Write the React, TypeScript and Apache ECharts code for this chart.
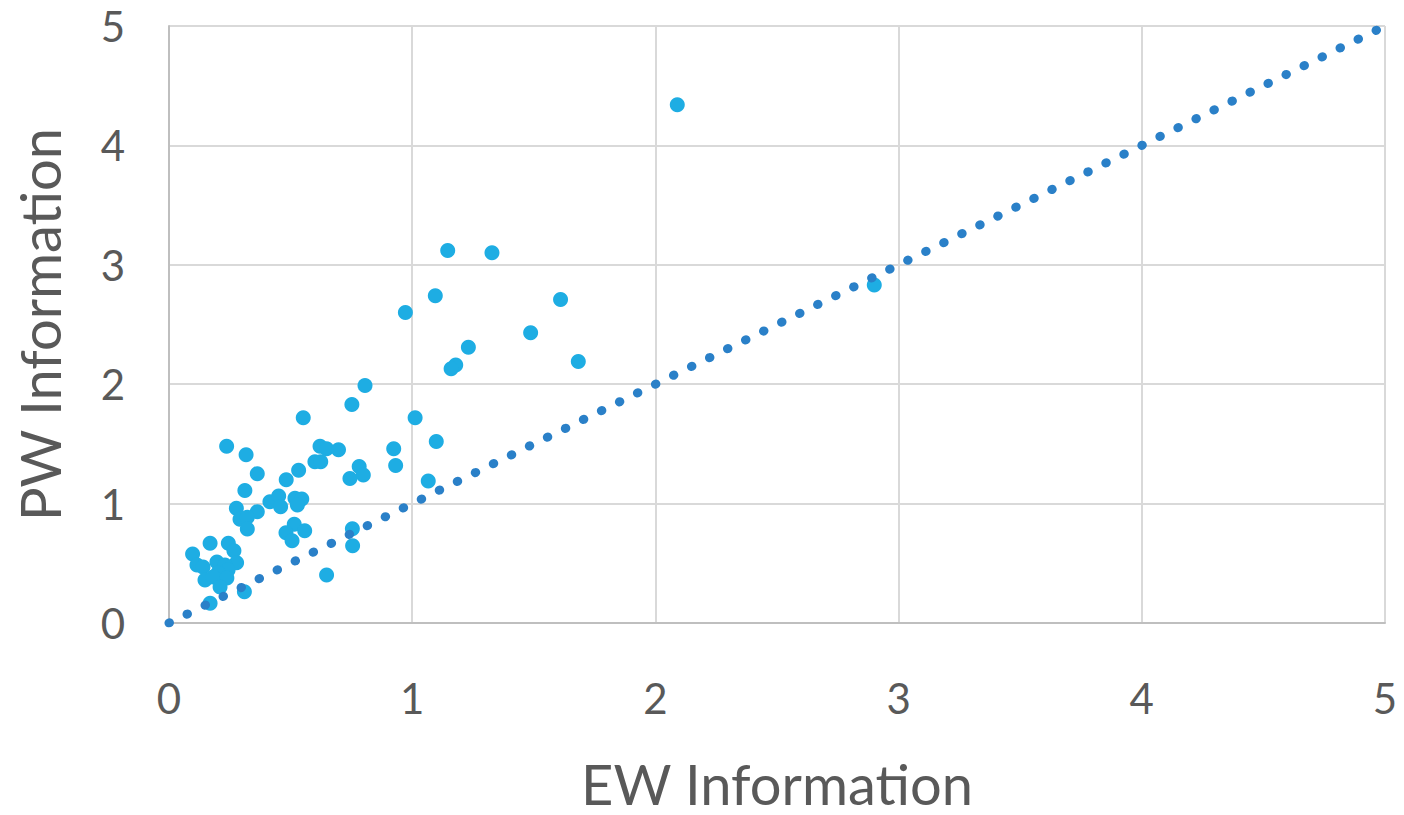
import React, { useEffect, useRef } from "react";
import * as echarts from "echarts";

const xTicks = [0, 1, 2, 3, 4, 5];
const yTicks = [0, 1, 2, 3, 4, 5];
const xTitle = "EW Information";
const yTitle = "PW Information";

const ewValues = [
  2.09, 1.146, 1.328, 1.095, 1.61, 0.972, 1.487, 1.231, 1.179, 1.16, 1.683, 0.806, 0.752, 2.9, 1.012,
  0.552, 0.237, 0.317, 0.621, 0.648, 0.697, 0.924, 1.099, 0.6, 0.624, 0.932, 0.782, 0.363, 0.533, 0.744,
  0.799, 0.482, 1.066, 0.312, 0.415, 0.451, 0.459, 0.518, 0.546, 0.528, 0.277, 0.363, 0.292, 0.322,
  0.322, 0.515, 0.481, 0.506, 0.558, 0.754, 0.755, 0.169, 0.244, 0.267, 0.097, 0.278, 0.115, 0.14,
  0.197, 0.23, 0.243, 0.148, 0.201, 0.181, 0.238, 0.21, 0.648, 0.31, 0.169,
];
const pwValues = [
  4.34, 3.12, 3.1, 2.74, 2.71, 2.6, 2.43, 2.31, 2.16, 2.13, 2.19, 1.99, 1.83, 2.83, 1.72,
  1.72, 1.48, 1.41, 1.48, 1.46, 1.45, 1.46, 1.52, 1.35, 1.35, 1.32, 1.31, 1.25, 1.28, 1.21,
  1.24, 1.2, 1.19, 1.11, 1.016, 1.064, 0.974, 1.044, 1.039, 0.988, 0.961, 0.932, 0.869, 0.885,
  0.787, 0.827, 0.756, 0.689, 0.773, 0.79, 0.647, 0.668, 0.668, 0.606, 0.578, 0.505, 0.486, 0.469,
  0.511, 0.486, 0.444, 0.36, 0.419, 0.385, 0.377, 0.302, 0.402, 0.262, 0.165,
];
const diagonal = [
  [0, 0],
  [5, 5],
];

export default function App() {
  const ref = useRef<HTMLDivElement>(null);
  useEffect(() => {
    if (!ref.current) return;
    const chart = echarts.init(ref.current, null, { renderer: "svg" });
    const font = "Lato, 'Open Sans', sans-serif";
    chart.setOption({
      animation: false,
      backgroundColor: "#ffffff",
      grid: {
        left: 169,
        right: 19,
        top: 26,
        bottom: 192,
        containLabel: false,
        outerBoundsMode: "none",
      },
      xAxis: {
        type: "value",
        min: 0,
        max: 5,
        interval: 1,
        name: xTitle,
        nameLocation: "middle",
        nameGap: 138,
        nameTextStyle: { fontSize: 56, lineHeight: 44, color: "#595959", fontFamily: font },
        axisLine: { show: true, lineStyle: { color: "#BFBFBF", width: 2 } },
        axisTick: { show: false },
        splitLine: { show: true, lineStyle: { color: "#D9D9D9", width: 2 } },
        axisLabel: {
          fontSize: 42,
          color: "#595959",
          fontFamily: font,
          margin: 54,
          formatter: (v: number) => (xTicks.includes(v) ? String(v) : ""),
        },
      },
      yAxis: {
        type: "value",
        min: 0,
        max: 5,
        interval: 1,
        name: yTitle,
        nameLocation: "middle",
        nameGap: 102,
        nameTextStyle: { fontSize: 56, color: "#595959", fontFamily: font },
        axisLine: { show: true, lineStyle: { color: "#BFBFBF", width: 2 } },
        axisTick: { show: false },
        splitLine: { show: true, lineStyle: { color: "#D9D9D9", width: 2 } },
        axisLabel: {
          fontSize: 42,
          color: "#595959",
          fontFamily: font,
          margin: 44,
          formatter: (v: number) => (yTicks.includes(v) ? String(v) : ""),
        },
      },
      series: [
        {
          type: "scatter",
          data: ewValues.map((x, i) => [x, pwValues[i]]),
          symbol: "circle",
          symbolSize: 15,
          itemStyle: { color: "#1EADE3", opacity: 1 },
          z: 2,
        },
        {
          type: "line",
          data: diagonal,
          showSymbol: false,
          symbol: "none",
          lineStyle: {
            color: "#2A80C8",
            width: 9,
            type: [0.5, 19.57],
            cap: "round",
          },
          z: 3,
        },
      ],
    });
    return () => chart.dispose();
  }, []);
  return <div ref={ref} style={{ width: 1404, height: 815, position: "absolute", left: 0, top: 0 }} />;
}
